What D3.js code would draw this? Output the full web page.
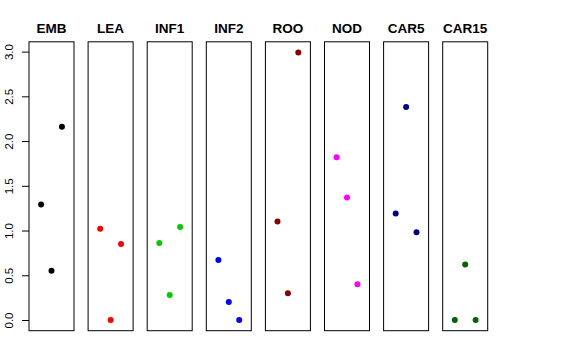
<!DOCTYPE html>
<html>
<head>
<meta charset="utf-8">
<script src="https://cdn.jsdelivr.net/npm/d3@7"></script>
<style>
  body { margin: 0; background: #fff; }
  text { font-family: "Liberation Sans", Arial, Helvetica, sans-serif; }
</style>
</head>
<body>
<div id="chart"></div>
<script>
var svgWidth = 576;
var svgHeight = 360;

// panel names and colours
var panels = ["EMB", "LEA", "INF1", "INF2", "ROO", "NOD", "CAR5", "CAR15"];
var colors = ["#000000", "#FF0000", "#00CD00", "#0000FF", "#8B0000", "#FF00FF", "#00008B", "#006400"];

// three values per panel, at positions 1, 2, 3
var positions = [1, 2, 3];
var EMB = [1.29, 0.55, 2.16];
var LEA = [1.02, 0.00, 0.85];
var INF1 = [0.86, 0.28, 1.04];
var INF2 = [0.67, 0.20, 0.00];
var ROO = [1.10, 0.30, 2.99];
var NOD = [1.82, 1.37, 0.40];
var CAR5 = [1.19, 2.38, 0.98];
var CAR15 = [0.00, 0.62, 0.00];
var values = [EMB, LEA, INF1, INF2, ROO, NOD, CAR5, CAR15];

var yTicks = [0, 0.5, 1, 1.5, 2, 2.5, 3];

var margin = { top: 41.8, bottom: 29.3, left: 29, right: 88 };
var panelWidth = 45;
var panelStep = 59.1;
var chartHeight = svgHeight - margin.top - margin.bottom;

var svg = d3.select("#chart")
    .append("svg")
    .attr("width", svgWidth)
    .attr("height", svgHeight);

var ymax = 2.99;
var yScale = d3.scaleLinear()
    .domain([-0.04 * ymax, ymax * 1.04])
    .range([margin.top + chartHeight, margin.top]);

var xScale = d3.scaleLinear()
    .domain([-0.16, 4.16])
    .range([0, panelWidth]);

panels.forEach(function(name, i) {
    var x0 = margin.left + i * panelStep;
    var g = svg.append("g")
        .attr("transform", `translate(${x0}, 0)`);

    g.append("rect")
        .attr("x", 0)
        .attr("y", margin.top)
        .attr("width", panelWidth)
        .attr("height", chartHeight)
        .attr("fill", "none")
        .attr("stroke", "#000")
        .attr("stroke-width", 1);

    g.append("text")
        .attr("x", panelWidth / 2)
        .attr("y", 33)
        .attr("text-anchor", "middle")
        .attr("font-weight", "bold")
        .attr("font-size", "13.5px")
        .text(name);

    g.selectAll("circle")
        .data(values[i])
        .enter()
        .append("circle")
        .attr("cx", (d, j) => xScale(positions[j]))
        .attr("cy", d => yScale(d))
        .attr("r", 3)
        .attr("fill", colors[i]);
});

// y axis on the first panel
var leftAxis = d3.axisLeft(yScale)
    .tickValues(yTicks)
    .tickSize(7)
    .tickFormat(d3.format(".1f"));

var yAxis = svg.append("g")
    .attr("transform", `translate(${margin.left}, 0)`)
    .call(leftAxis);

yAxis.select(".domain").remove();
yAxis.selectAll(".tick line").attr("stroke", "#000");
yAxis.selectAll(".tick text")
    .attr("x", null)
    .attr("dy", null)
    .attr("transform", "translate(-16.5, 0) rotate(-90)")
    .attr("text-anchor", "middle")
    .attr("font-size", "11.5px")
    .attr("font-family", "Liberation Sans, Arial, sans-serif")
    .attr("fill", "#000");
</script>
</body>
</html>
